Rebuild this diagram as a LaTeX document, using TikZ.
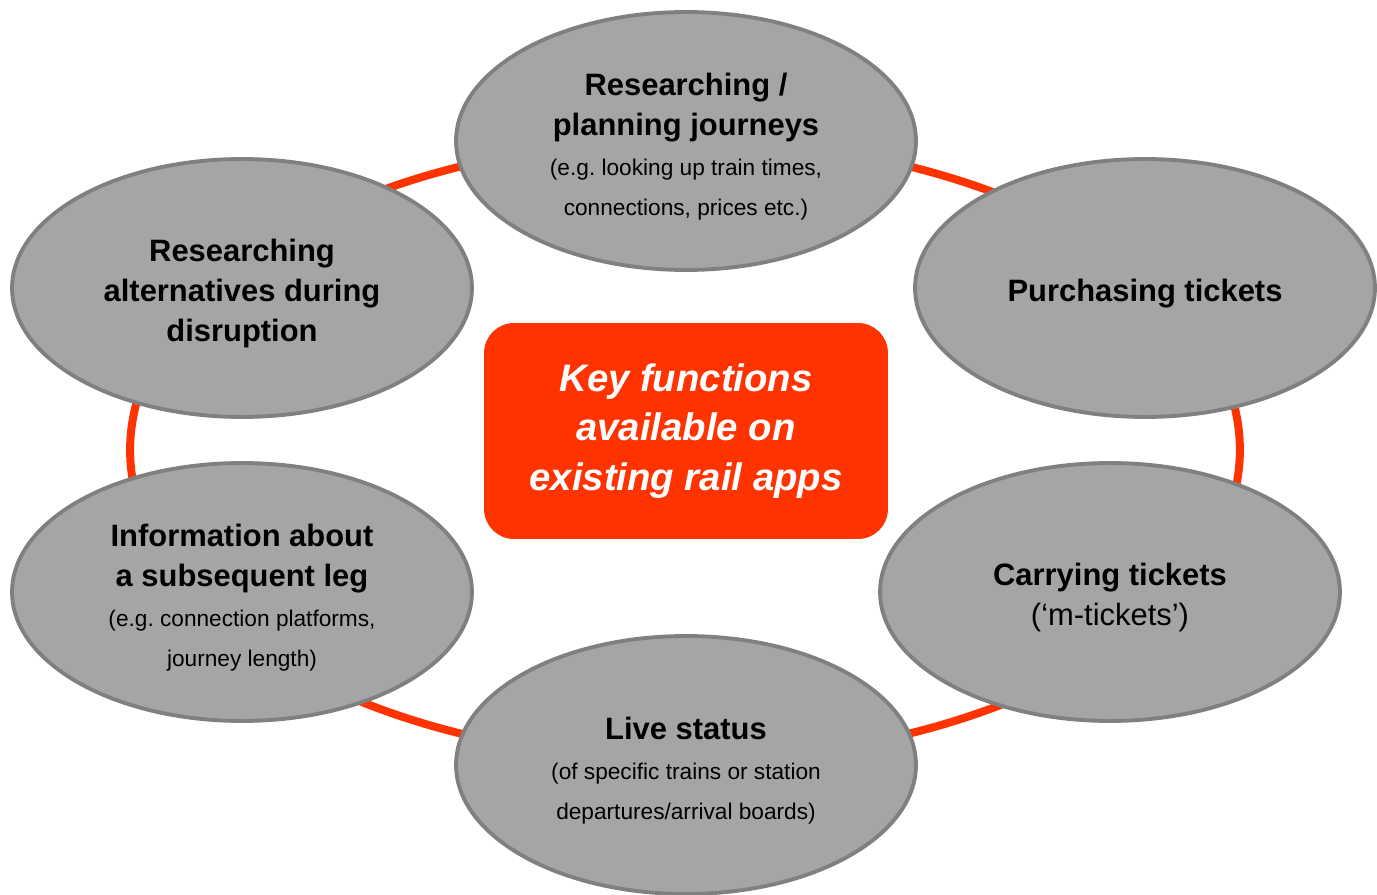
\documentclass[tikz,border=0pt]{standalone}
\usepackage{fontspec}
\setmainfont{Liberation Sans}
\usepackage{tikz}
\usetikzlibrary{shapes.geometric}
\definecolor{railred}{HTML}{FF3300}
\definecolor{bubblefill}{HTML}{A5A5A5}
\definecolor{bubbleline}{HTML}{808080}
\newcommand{\bubblenote}[1]{{\fontsize{12.9}{22.8}\selectfont #1}}
\newcommand{\topstrut}{\rule{0pt}{1.1em}}
\frenchspacing

\begin{document}
\begin{tikzpicture}
    [ x=.02cm, y=-.02cm,
      bubble/.style={ellipse, draw=bubbleline, fill=bubblefill, line width=2.2pt,
        minimum width=9.2cm, minimum height=5.16cm, inner sep=0pt, align=center,
        font=\fontsize{17.6}{22.8}\selectfont\bfseries},
      hub/.style={rectangle, rounded corners=.6cm, fill=railred, text=white,
        minimum width=8.08cm, minimum height=4.32cm, align=center,
        font=\fontsize{21.8}{28}\selectfont\bfseries\itshape},
    ]
    \useasboundingbox (0, 0) rectangle (1377, 895);

    % the ring behind the bubbles
    \draw[railred, line width=.16cm] (685, 450) ellipse (11.1cm and 6.2cm);

    \node[bubble] (plan) at (686, 141)
        {\topstrut Researching /\\planning journeys\\
         \bubblenote{\mdseries(e.g. looking up train times,}\\
         \bubblenote{\mdseries connections, prices etc.)}};
    \node[bubble] (buy) at (1145, 288) {\topstrut Purchasing tickets};
    \node[bubble] (carry) at (1110, 592)
        {\topstrut Carrying tickets\\\mdseries(‘m-tickets’)};
    \node[bubble] (live) at (686, 765)
        {\topstrut Live status\\
         \bubblenote{\mdseries(of specific trains or station}\\
         \bubblenote{\mdseries departures/arrival boards)}};
    \node[bubble] (leg) at (242, 592)
        {\topstrut Information about\\a subsequent leg\\
         \bubblenote{\mdseries(e.g. connection platforms,}\\
         \bubblenote{\mdseries journey length)}};
    \node[bubble] (disrupt) at (242, 288)
        {\topstrut Researching\\alternatives during\\disruption};

    \node[hub] (apps) at (686, 431)
        {Key functions\\available on\\existing rail apps};
\end{tikzpicture}
\end{document}
